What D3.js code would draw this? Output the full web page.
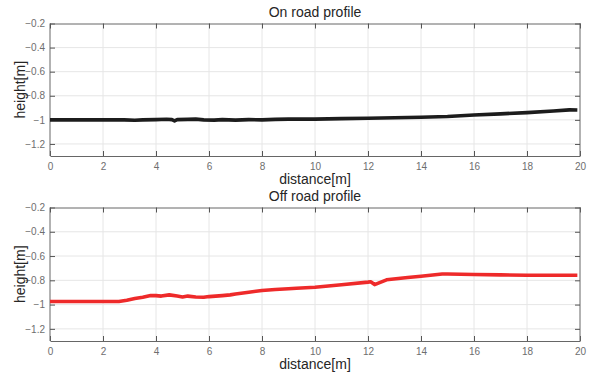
<!DOCTYPE html>
<meta charset="utf-8">
<style>
    body { margin: 0; background: #fff; }
    svg text { font-family: "Liberation Sans", Arial, sans-serif; }
    .grid line { stroke: #e6e6e6; stroke-width: 1px; }
    .tick line { stroke: #555; }
    .lbl { fill: #262626; font-size: 14px; }
</style>
<svg width="591" height="378"></svg>
<script src="https://d3js.org/d3.v7.min.js"></script>
<script>
    // distance ticks and height ticks shared by both panels
    const xTicks = [0, 2, 4, 6, 8, 10, 12, 14, 16, 18, 20];
    const yTicks = [-1.2, -1, -0.8, -0.6, -0.4, -0.2];

    // on road profile
    const onDist = [0, 1, 2, 2.8, 3.2, 3.5, 4, 4.4, 4.6, 4.7, 4.8, 5.2, 5.5, 5.8, 6.2, 6.5, 7, 7.5, 8, 8.5, 9, 10, 11, 12, 13, 14, 15, 16, 17, 18, 19, 19.6, 19.9];
    const onHeight = [-1, -1, -1, -1, -1.003, -1, -0.998, -0.995, -0.998, -1.008, -0.998, -0.996, -0.994, -1, -1.002, -0.998, -1.002, -0.998, -1, -0.996, -0.994, -0.994, -0.99, -0.986, -0.982, -0.978, -0.972, -0.96, -0.95, -0.94, -0.926, -0.917, -0.918];

    // off road profile
    const offDist = [0, 1, 2, 2.6, 2.9, 3.2, 3.5, 3.8, 4, 4.2, 4.5, 4.8, 5, 5.2, 5.5, 5.8, 6, 6.5, 6.8, 7, 7.5, 8, 8.5, 9, 9.3, 10, 11, 12, 12.1, 12.25, 12.7, 13.5, 14, 14.8, 15, 16, 17, 18, 19, 19.9];
    const offHeight = [-0.975, -0.975, -0.975, -0.975, -0.964, -0.95, -0.94, -0.926, -0.926, -0.93, -0.92, -0.93, -0.937, -0.93, -0.937, -0.94, -0.934, -0.926, -0.92, -0.912, -0.898, -0.884, -0.876, -0.87, -0.865, -0.857, -0.837, -0.815, -0.812, -0.835, -0.796, -0.777, -0.766, -0.748, -0.748, -0.752, -0.755, -0.758, -0.758, -0.758];

    const svg = d3.select("svg");
    const left = 50, right = 580;

    const x = d3.scaleLinear().domain([0, 20]).range([left, right]);

    function panel(top, bottom, title, dist, height, colour) {
        const y = d3.scaleLinear().domain([-1.3, -0.2]).range([bottom, top]);
        const g = svg.append("g");

        // grid
        const grid = g.append("g").attr("class", "grid");
        grid.selectAll(".gx").data(xTicks.slice(1, -1)).enter().append("line")
            .attr("x1", d => x(d)).attr("x2", d => x(d))
            .attr("y1", top).attr("y2", bottom);
        grid.selectAll(".gy").data(yTicks.slice(0, -1)).enter().append("line")
            .attr("x1", left).attr("x2", right)
            .attr("y1", d => y(d)).attr("y2", d => y(d));

        // axes, ticks inward like matlab
        g.append("g").attr("transform", "translate(0," + bottom + ")")
            .call(d3.axisBottom(x).tickValues(xTicks).tickSize(-5).tickPadding(7).tickSizeOuter(0));
        g.append("g").attr("transform", "translate(" + left + ",0)")
            .call(d3.axisLeft(y).tickValues(yTicks).tickFormat(d3.format("")).tickSize(-5).tickPadding(5).tickSizeOuter(0))
            .select(".domain").attr("d", "M0," + top + "V" + bottom);
        g.append("g").attr("transform", "translate(0," + top + ")")
            .call(d3.axisTop(x).tickValues(xTicks).tickFormat("").tickSize(-5).tickSizeOuter(0));
        g.append("g").attr("transform", "translate(" + right + ",0)")
            .call(d3.axisRight(y).tickValues(yTicks).tickFormat("").tickSize(-5).tickSizeOuter(0))
            .select(".domain").attr("d", "M0," + top + "V" + bottom);
        g.selectAll(".domain").attr("stroke", "#666");
        g.selectAll(".tick text").attr("fill", "#6e6e6e").attr("font-size", 10);

        // profile line
        const pts = dist.map((d, i) => [d, height[i]]);
        g.append("path").datum(pts)
            .attr("fill", "none")
            .attr("stroke", colour)
            .attr("stroke-width", 3.6)
            .attr("stroke-linejoin", "round")
            .attr("d", d3.line().x(d => x(d[0])).y(d => y(d[1])));

        g.append("text").attr("class", "lbl")
            .attr("x", (left + right) / 2).attr("y", top - 7)
            .attr("text-anchor", "middle").text(title);
        g.append("text").attr("class", "lbl")
            .attr("x", (left + right) / 2).attr("y", bottom + 28)
            .attr("text-anchor", "middle").text("distance[m]");
        g.append("text").attr("class", "lbl")
            .attr("transform", "translate(25," + ((top + bottom) / 2) + ") rotate(-90)")
            .attr("text-anchor", "middle").text("height[m]");
    }

    panel(23.5, 156, "On road profile", onDist, onHeight, "#1c1c1c");
    panel(207.5, 341, "Off road profile", offDist, offHeight, "#ee2a2a");
</script>
